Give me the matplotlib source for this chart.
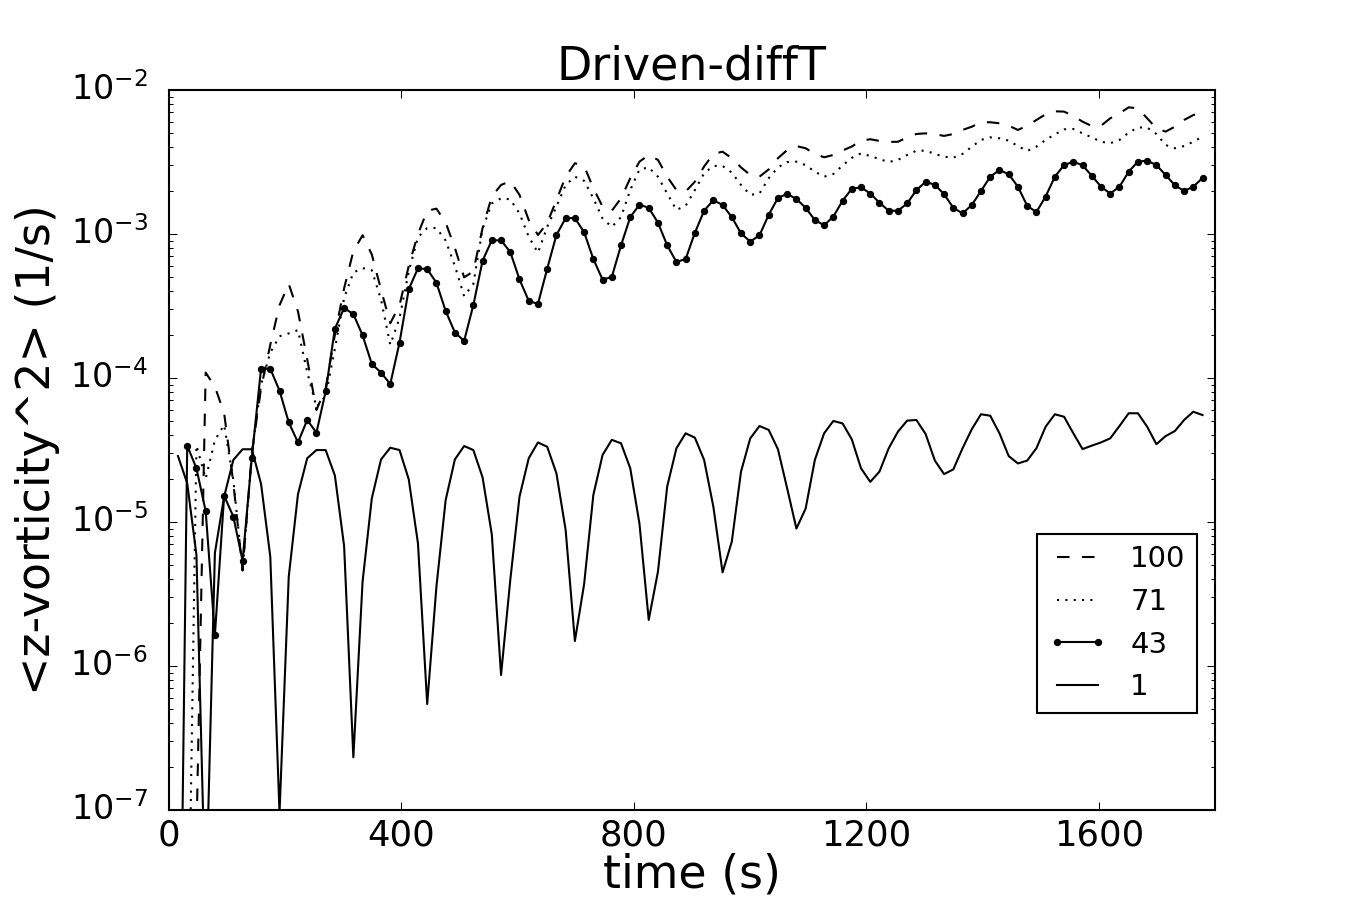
import numpy as np
import matplotlib
matplotlib.use("Agg")
import matplotlib.pyplot as plt
from matplotlib.ticker import MultipleLocator

# sample times: one output every ~15.88 s
sample_dt = 15.88
time = sample_dt * np.arange(1, 113)

# <z-vorticity^2> for each case (values below 1e-7 fall off the plot)
vort_100 = [1e-10, 1e-10, 6.5e-8, 1.09e-4, 8.7e-5, 5.7e-5, 1.86e-5, 4.6e-6, 3.0e-5, 8.5e-5,
            1.7e-4, 3.2e-4, 4.5e-4, 2.9e-4, 1.35e-4, 6.0e-5, 8.5e-5, 2.0e-4, 4.2e-4, 7.6e-4,
            9.8e-4, 7.2e-4, 4.1e-4, 2.4e-4, 3.2e-4, 6.0e-4, 1.0e-3, 1.45e-3, 1.5e-3, 1.2e-3,
            8.0e-4, 5.0e-4, 5.5e-4, 1.1e-3, 1.82e-3, 2.19e-3, 2.33e-3, 1.87e-3, 1.25e-3, 9.84e-4,
            1.19e-3, 1.72e-3, 2.5e-3, 3.1e-3, 2.97e-3, 2.08e-3, 1.55e-3, 1.45e-3, 1.77e-3, 2.44e-3,
            3.18e-3, 3.54e-3, 3.27e-3, 2.5e-3, 2.02e-3, 1.97e-3, 2.31e-3, 2.94e-3, 3.6e-3, 3.73e-3,
            3.36e-3, 2.9e-3, 2.57e-3, 2.5e-3, 2.81e-3, 3.36e-3, 3.83e-3, 4.08e-3, 3.94e-3, 3.6e-3,
            3.41e-3, 3.54e-3, 3.8e-3, 4.05e-3, 4.45e-3, 4.55e-3, 4.43e-3, 4.36e-3, 4.37e-3, 4.69e-3,
            4.95e-3, 5.0e-3, 4.93e-3, 4.8e-3, 4.95e-3, 5.28e-3, 5.56e-3, 5.97e-3, 5.97e-3, 5.87e-3,
            5.65e-3, 5.28e-3, 5.65e-3, 6.19e-3, 6.78e-3, 7.11e-3, 7.08e-3, 6.6e-3, 6.03e-3, 5.62e-3,
            5.65e-3, 6.36e-3, 6.89e-3, 7.58e-3, 7.46e-3, 6.36e-3, 5.42e-3, 5.14e-3, 5.56e-3, 6.19e-3,
            6.7e-3, 7.08e-3]

vort_71 = [1e-10, 3e-9, 3.4e-5, 2.0e-5, 3.7e-5, 4.72e-5, 1.96e-5, 4.6e-6, 3.0e-5, 9.0e-5,
           1.5e-4, 1.95e-4, 2.04e-4, 2.15e-4, 1.1e-4, 6.3e-5, 7.5e-5, 1.6e-4, 3.6e-4, 5.4e-4,
           5.8e-4, 5.6e-4, 3.5e-4, 1.7e-4, 2.6e-4, 5.5e-4, 9.5e-4, 1.1e-3, 1.1e-3, 9.0e-4,
           6.0e-4, 3.7e-4, 4.5e-4, 1.09e-3, 1.63e-3, 1.77e-3, 1.74e-3, 1.39e-3, 9.58e-4, 7.41e-4,
           1.12e-3, 1.55e-3, 2.19e-3, 2.5e-3, 2.34e-3, 1.77e-3, 1.28e-3, 1.12e-3, 1.31e-3, 2.02e-3,
           2.81e-3, 2.9e-3, 2.5e-3, 1.91e-3, 1.47e-3, 1.57e-3, 2.02e-3, 2.64e-3, 2.97e-3, 2.97e-3,
           2.67e-3, 2.19e-3, 1.87e-3, 1.91e-3, 2.44e-3, 2.9e-3, 3.16e-3, 3.18e-3, 3.01e-3, 2.71e-3,
           2.5e-3, 2.61e-3, 2.99e-3, 3.38e-3, 3.63e-3, 3.48e-3, 3.31e-3, 3.16e-3, 3.27e-3, 3.54e-3,
           3.79e-3, 3.79e-3, 3.6e-3, 3.44e-3, 3.39e-3, 3.6e-3, 4.04e-3, 4.5e-3, 4.69e-3, 4.62e-3,
           4.45e-3, 4.08e-3, 3.77e-3, 4.04e-3, 4.5e-3, 4.92e-3, 5.33e-3, 5.36e-3, 5.0e-3, 4.69e-3,
           4.37e-3, 4.27e-3, 4.5e-3, 5.06e-3, 5.5e-3, 5.48e-3, 4.95e-3, 4.15e-3, 3.94e-3, 4.08e-3,
           4.37e-3, 4.75e-3]

vort_43 = [3e-10, 3.39e-5, 2.36e-5, 1.19e-5, 1.64e-6, 1.52e-5, 1.09e-5, 5.38e-6, 2.8e-5, 1.16e-4,
           1.16e-4, 8.17e-5, 4.92e-5, 3.57e-5, 5.11e-5, 4.17e-5, 8.07e-5, 2.2e-4, 3.06e-4, 2.78e-4,
           1.98e-4, 1.25e-4, 1.09e-4, 9.08e-5, 1.76e-4, 4.13e-4, 5.78e-4, 5.7e-4, 4.59e-4, 2.92e-4,
           2.07e-4, 1.81e-4, 3.21e-4, 6.53e-4, 9.04e-4, 9.04e-4, 7.5e-4, 4.84e-4, 3.43e-4, 3.27e-4,
           5.74e-4, 9.84e-4, 1.29e-3, 1.29e-3, 1.03e-3, 6.7e-4, 4.82e-4, 5.03e-4, 8.34e-4, 1.31e-3,
           1.6e-3, 1.52e-3, 1.2e-3, 8.34e-4, 6.4e-4, 6.7e-4, 1.02e-3, 1.45e-3, 1.72e-3, 1.59e-3,
           1.31e-3, 1.01e-3, 8.86e-4, 9.79e-4, 1.36e-3, 1.78e-3, 1.9e-3, 1.75e-3, 1.52e-3, 1.25e-3,
           1.15e-3, 1.32e-3, 1.7e-3, 2.06e-3, 2.11e-3, 1.91e-3, 1.65e-3, 1.45e-3, 1.45e-3, 1.63e-3,
           2.02e-3, 2.3e-3, 2.2e-3, 1.89e-3, 1.52e-3, 1.39e-3, 1.59e-3, 1.99e-3, 2.5e-3, 2.78e-3,
           2.6e-3, 2.13e-3, 1.57e-3, 1.42e-3, 1.82e-3, 2.5e-3, 3.01e-3, 3.18e-3, 3.0e-3, 2.54e-3,
           2.13e-3, 1.91e-3, 2.13e-3, 2.71e-3, 3.18e-3, 3.23e-3, 3.01e-3, 2.57e-3, 2.18e-3, 1.99e-3,
           2.13e-3, 2.45e-3]

vort_1 = [2.87e-5, 1.86e-5, 5.9e-6, 1.9e-8, 6.1e-6, 1.5e-5, 2.7e-5, 3.2e-5, 3.2e-5, 1.84e-5,
          5.75e-6, 9.5e-8, 4.17e-6, 1.56e-5, 2.77e-5, 3.16e-5, 3.16e-5, 2.1e-5, 6.8e-6, 2.32e-7,
          3.86e-6, 1.46e-5, 2.72e-5, 3.28e-5, 3.16e-5, 1.98e-5, 7.1e-6, 5.44e-7, 3.56e-6, 1.42e-5,
          2.72e-5, 3.37e-5, 3.16e-5, 2.04e-5, 8.2e-6, 8.66e-7, 3.95e-6, 1.5e-5, 2.77e-5, 3.57e-5,
          3.33e-5, 2.18e-5, 8.8e-6, 1.49e-6, 3.7e-6, 1.54e-5, 2.92e-5, 3.72e-5, 3.52e-5, 2.36e-5,
          9.7e-6, 2.09e-6, 4.52e-6, 1.76e-5, 3.25e-5, 4.13e-5, 3.85e-5, 2.7e-5, 1.28e-5, 4.47e-6,
          7.3e-6, 2.24e-5, 3.81e-5, 4.64e-5, 4.36e-5, 3.2e-5, 1.71e-5, 9.0e-6, 1.24e-5, 2.7e-5,
          4.13e-5, 5.03e-5, 4.84e-5, 3.75e-5, 2.36e-5, 1.9e-5, 2.24e-5, 3.25e-5, 4.24e-5, 5.06e-5,
          5.11e-5, 4.08e-5, 2.67e-5, 2.15e-5, 2.32e-5, 3.25e-5, 4.41e-5, 5.6e-5, 5.47e-5, 4.13e-5,
          2.87e-5, 2.55e-5, 2.67e-5, 3.25e-5, 4.59e-5, 5.6e-5, 5.38e-5, 4.13e-5, 3.21e-5, 3.39e-5,
          3.57e-5, 3.81e-5, 4.64e-5, 5.69e-5, 5.69e-5, 4.59e-5, 3.47e-5, 3.95e-5, 4.28e-5, 5.11e-5,
          5.83e-5, 5.53e-5]

labels = ["100", "71", "43", "1"]
styles = ["k--", "k:", "k.-", "k-"]

plt.style.use("classic")
plt.rcParams["axes.unicode_minus"] = False

fig = plt.figure(figsize=(9, 6), dpi=150, facecolor="white")
ax = fig.add_subplot(111)

for vals, style, lab in zip([vort_100, vort_71, vort_43, vort_1], styles, labels):
    ax.semilogy(time, vals, style, label=lab)

ax.set_xlim(0, 1800)
ax.set_ylim(1e-7, 1e-2)
ax.xaxis.set_major_locator(MultipleLocator(400))
ax.tick_params(axis="x", labelsize=17)
ax.tick_params(axis="y", labelsize=16)
ax.tick_params(axis="y", which="major", pad=10)

ax.set_title("Driven-diffT", fontsize=22)
ax.set_xlabel("time (s)", fontsize=22, labelpad=0)
ax.set_ylabel("<z-vorticity^2> (1/s)", fontsize=22)

ax.legend(loc="lower right", bbox_to_anchor=(0.983, 0.135), borderaxespad=0,
          fontsize=14)

fig.savefig("out.png", dpi=150, facecolor="white")
